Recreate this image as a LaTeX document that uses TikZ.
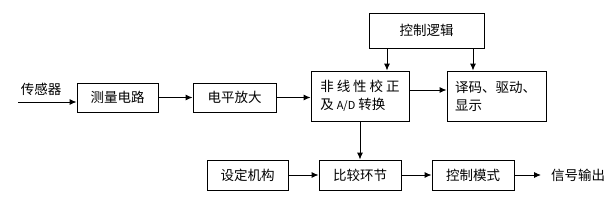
\documentclass[tikz,border=0pt]{standalone}
\usepackage{fontspec}
\setmainfont{Noto Sans CJK SC}
\usetikzlibrary{arrows.meta}
\begin{document}
\begin{tikzpicture}[x=1pt,y=-1pt,
  font=\fontsize{13.5}{18}\selectfont,
  box/.style={draw, line width=0.9pt, inner sep=0pt, anchor=center},
  arr/.style={-{Latex[length=7pt,width=6pt]}, line width=0.9pt},
  ln/.style={line width=0.9pt}]
\useasboundingbox (0,0) rectangle (616,206);
\node[box, minimum width=81pt, minimum height=29pt] (measure) at (117.5,97.5) {测量电路};
\node[box, minimum width=83pt, minimum height=29pt] (level) at (234.5,97.5) {电平放大};
\node[box, minimum width=98pt, minimum height=50pt, align=left] (nonlin) at (360,96)
  {非\hspace{3pt}线\hspace{3pt}性\hspace{3pt}校\hspace{3pt}正\\及 {\fontsize{11}{18}\selectfont A/D} 转换};
\node[box, minimum width=115pt, minimum height=35pt] (logic) at (426.5,30.5) {控制逻辑};
\node[box, minimum width=99pt, minimum height=50pt, align=left, text width=83pt] (decode) at (496.5,96) {译码、驱动、\\显示};
\node[box, minimum width=82pt, minimum height=30pt] (compare) at (360,175) {比较环节};
\node[box, minimum width=81pt, minimum height=30pt] (setting) at (247.5,175) {设定机构};
\node[box, minimum width=82pt, minimum height=30pt] (mode) at (473,175) {控制模式};
\node[inner sep=0pt, anchor=west] (out) at (551,175) {信号输出};
\node[inner sep=0pt] (sensor) at (41,89) {传感器};
\coordinate (in) at (18,102);
\draw[arr] (in) -- (in -| measure.west);
\draw[arr] (measure) -- (level);
\draw[arr] (level.east) -- (level.east -| nonlin.west);
\draw[arr] ([yshift=6pt]nonlin.east) -- ([yshift=6pt]nonlin.east -| decode.west);
\draw[arr] ([xshift=-39.5pt]logic.south) -- ([xshift=-39.5pt]logic.south |- nonlin.north);
\draw[arr] ([xshift=46.5pt]logic.south) -- ([xshift=46.5pt]logic.south |- decode.north);
\draw[arr] (nonlin.south) -- (compare.north);
\draw[arr] (setting) -- (compare);
\draw[arr] (compare) -- (mode);
\draw[arr] (mode.east) -- ([xshift=-10pt]out.west);
\end{tikzpicture}
\end{document}
